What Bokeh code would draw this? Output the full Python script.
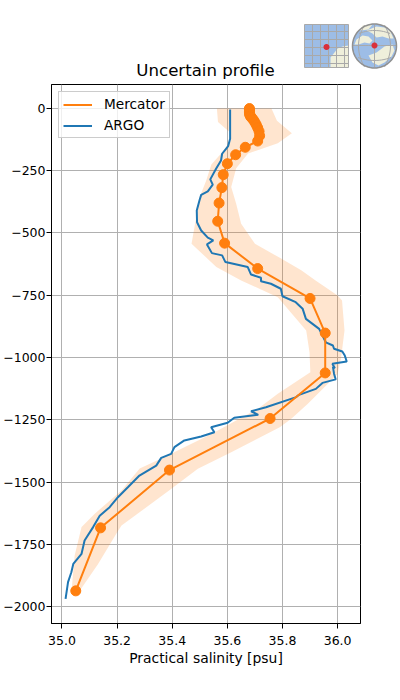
from bokeh.plotting import figure
from bokeh.embed import file_html
from bokeh.resources import INLINE
from bokeh.layouts import column
from bokeh.models import Range1d, FixedTicker, Legend, LegendItem, NumeralTickFormatter
from bokeh.core.properties import value
import numpy as np

# Mercator levels
merc_depth = [0.5, 5, 11, 18, 25, 29, 34, 40, 47, 56, 66, 78, 92, 110, 131, 156, 186, 222, 266, 318, 380, 453, 541, 643, 763, 902, 1062, 1245, 1452, 1684, 1937]
merc_sal = [35.68, 35.68, 35.68, 35.68, 35.681, 35.683, 35.685, 35.69, 35.695, 35.70, 35.705, 35.71, 35.715, 35.717, 35.71, 35.665, 35.63, 35.60, 35.585, 35.58, 35.57, 35.565, 35.59, 35.71, 35.90, 35.955, 35.955, 35.755, 35.39, 35.14, 35.05]

# uncertainty band edges
band_left_d = [0, 55, 95, 130, 180, 225, 290, 355, 437, 543, 637, 691, 758, 892, 979, 1059, 1146, 1206, 1307, 1400, 1446, 1534, 1627, 1681, 1795, 1948]
band_left_s = [35.562, 35.566, 35.608, 35.612, 35.578, 35.542, 35.523, 35.50, 35.487, 35.47, 35.56, 35.65, 35.783, 35.886, 35.898, 35.901, 35.783, 35.711, 35.542, 35.372, 35.282, 35.216, 35.119, 35.071, 35.046, 35.034]
band_right_d = [0, 50, 100, 140, 181, 240, 316, 383, 463, 543, 603, 650, 691, 751, 771, 892, 998, 1066, 1186, 1246, 1280, 1380, 1447, 1527, 1675, 1708, 1829, 1936, 1948]
band_right_s = [35.76, 35.78, 35.834, 35.783, 35.675, 35.632, 35.614, 35.632, 35.65, 35.70, 35.795, 35.868, 35.92, 36.0, 36.016, 36.025, 36.013, 36.0, 35.892, 35.832, 35.79, 35.614, 35.493, 35.397, 35.216, 35.197, 35.131, 35.065, 35.034]

# ARGO profile
argo_depth = [4, 122, 151, 182, 209, 242, 285, 306, 333, 347, 369, 410, 457, 490, 519, 530, 546, 581, 590, 617, 637, 667, 680, 694, 704, 724, 754, 778, 804, 845, 885, 939, 952, 965, 976, 992, 1016, 1025, 1043, 1038, 1065, 1088, 1102, 1126, 1150, 1159, 1200, 1216, 1230, 1242, 1262, 1280, 1300, 1317, 1333, 1360, 1387, 1403, 1434, 1474, 1521, 1561, 1601, 1635, 1681, 1735, 1788, 1829, 1862, 1902, 1969]
argo_sal = [35.610, 35.610, 35.603, 35.581, 35.577, 35.559, 35.538, 35.547, 35.529, 35.505, 35.499, 35.489, 35.490, 35.505, 35.529, 35.549, 35.526, 35.544, 35.581, 35.593, 35.674, 35.686, 35.722, 35.722, 35.758, 35.794, 35.800, 35.848, 35.873, 35.885, 35.933, 35.957, 35.983, 35.987, 36.017, 36.026, 36.033, 35.981, 35.990, 35.983, 35.987, 35.993, 35.945, 35.921, 35.860, 35.850, 35.740, 35.686, 35.712, 35.625, 35.601, 35.541, 35.553, 35.505, 35.444, 35.408, 35.396, 35.360, 35.342, 35.281, 35.239, 35.203, 35.173, 35.137, 35.113, 35.082, 35.071, 35.041, 35.034, 35.022, 35.013]

x_ticks = [35.0, 35.2, 35.4, 35.6, 35.8, 36.0]
y_ticks = [0, -250, -500, -750, -1000, -1250, -1500, -1750, -2000]
title_text = "Uncertain profile"
x_label = "Practical salinity [psu]"
series_names = ["Mercator", "ARGO"]

ORANGE = "#ff7f0e"
BLUE = "#1f77b4"
FONT = "DejaVu Sans"

# Header strip: title and the two locator maps, in pixel coordinates
W, H_HEAD, H_MAIN = 399, 84, 606
h = figure(width=W, height=H_HEAD, output_backend="svg", toolbar_location=None,
           x_range=Range1d(0, W), y_range=Range1d(H_HEAD, 0),
           x_axis_type=None, y_axis_type=None,
           min_border=0, min_border_left=0, min_border_right=0, min_border_top=0, min_border_bottom=0)
h.grid.visible = False
h.outline_line_color = None
h.frame_align = False

WATER = "#9dbde6"
LAND = "#efefdb"
GRAT = "#a9a9a9"
RED = "#d9303a"

def circle(cx, cy, r, n=64):
    t = np.linspace(0, 2 * np.pi, n, endpoint=False)
    return list(cx + r * np.cos(t)), list(cy + r * np.sin(t))

# regional map
h.patch([304, 348, 348, 304], [24, 24, 67, 67], fill_color=WATER, line_color=None)
h.patch([330, 330, 334, 337, 342, 348, 348], [67, 57, 52, 48, 46, 45, 67], fill_color=LAND, line_color=None)
for gx in [312, 320, 328, 336, 344]:
    h.line([gx, gx], [24, 67], line_color=GRAT, line_width=1)
for gy in [31, 39, 47, 55, 63]:
    h.line([304, 348], [gy, gy], line_color=GRAT, line_width=1)
h.patch([304, 348, 348, 304], [24, 24, 67, 67], fill_alpha=0, line_color=GRAT, line_width=1)
cx_, cy_ = circle(326, 46.5, 3)
h.patch(cx_, cy_, fill_color=RED, line_color=None)

# globe
cx_, cy_ = circle(374, 45.5, 22)
h.patch(cx_, cy_, fill_color=WATER, line_color=None)
h.patch([356, 362, 368, 372, 369, 364, 358, 354], [39, 35, 36, 40, 43, 42, 44, 44], fill_color=LAND, line_color=None)
h.patch([366, 376, 384, 390, 393, 388, 382, 376, 372], [30, 26, 27, 31, 38, 38, 36, 37, 33], fill_color=LAND, line_color=None)
h.patch([376, 384, 392, 394, 391, 384, 378, 372, 368], [52, 46, 44, 50, 56, 62, 65, 62, 55], fill_color=LAND, line_color=None)
h.patch([362, 372, 368, 360], [25, 24, 29, 30], fill_color=LAND, line_color=None)
for gy, bow in [(33, -3), (45, 0), (57, 3)]:
    half = (484 - (gy - 45.5 + bow) ** 2) ** 0.5
    gxs = np.linspace(374 - half, 374 + half, 15)
    gys = gy + bow * (1 - ((gxs - 374) / half) ** 2)
    h.line(list(gxs), list(gys), line_color=GRAT, line_width=1)
for gx, bow in [(364, -6), (374, 0), (384, 6)]:
    gys = np.linspace(24.5, 66.5, 15)
    gxs = gx + bow * (1 - ((gys - 45.5) / 21) ** 2)
    h.line(list(gxs), list(gys), line_color=GRAT, line_width=1)
cx_, cy_ = circle(374, 45.5, 22)
h.patch(cx_, cy_, fill_alpha=0, line_color="#909090", line_width=1.5)
cx_, cy_ = circle(374, 45, 3)
h.patch(cx_, cy_, fill_color=RED, line_color=None)

h.text([205], [70], text=[title_text], text_align="center", text_baseline="middle",
       text_font=value(FONT), text_font_size="16.6px", text_color="black")

# Main profile panel
p = figure(width=W, height=H_MAIN, output_backend="svg", toolbar_location=None,
           x_range=Range1d(34.962, 36.083), y_range=Range1d(-2068, 96),
           min_border_left=50, min_border_right=39, min_border_top=0, min_border_bottom=67,
           background_fill_color="white", border_fill_color="white")
p.frame_align = False

for ax, ticks in ((p.xaxis, x_ticks), (p.yaxis, y_ticks)):
    ax.ticker = FixedTicker(ticks=ticks)
    ax.major_label_text_font = FONT
    ax.major_label_text_font_size = "12.5px"
    ax.major_label_text_color = "black"
    ax.major_tick_in = 0
    ax.major_tick_out = 5
    ax.minor_tick_line_color = None
    ax.axis_line_color = "black"
    ax.major_tick_line_color = "black"
p.yaxis.major_label_standoff = 1
p.xaxis.major_label_standoff = 7
p.xaxis.formatter = NumeralTickFormatter(format="0.0")
p.xaxis.axis_label = x_label
p.xaxis.axis_label_text_font = FONT
p.xaxis.axis_label_text_font_size = "13.9px"
p.xaxis.axis_label_text_font_style = "normal"
p.xaxis.axis_label_text_color = "black"
p.xaxis.axis_label_standoff = 2
p.yaxis.major_label_orientation = "horizontal"
p.outline_line_color = "black"
p.outline_line_alpha = 1

p.xgrid.ticker = FixedTicker(ticks=x_ticks)
p.ygrid.ticker = FixedTicker(ticks=y_ticks)
p.grid.grid_line_color = "#b0b0b0"
p.grid.grid_line_width = 1
p.grid.level = "underlay"

# band
p.patch(band_left_s + band_right_s[::-1], [-d for d in band_left_d] + [-d for d in band_right_d[::-1]],
        fill_color=ORANGE, fill_alpha=0.2, line_color=None)
# profiles
r_argo = p.line(argo_sal, [-d for d in argo_depth], line_color=BLUE, line_width=2)
r_merc = p.line(merc_sal, [-d for d in merc_depth], line_color=ORANGE, line_width=2)
p.scatter(merc_sal, [-d for d in merc_depth], size=10, fill_color=ORANGE, line_color=ORANGE)

legend = Legend(items=[LegendItem(label=series_names[0], renderers=[r_merc]),
                       LegendItem(label=series_names[1], renderers=[r_argo])],
                location=(7, 485), margin=0, padding=4, spacing=5,
                label_text_font=FONT, label_text_font_size="13.7px", label_text_color="black",
                border_line_color="#cccccc", border_line_alpha=1, background_fill_alpha=0.8,
                glyph_width=29, glyph_height=15, label_height=15, label_standoff=12)
p.add_layout(legend)

layout = column(h, p, spacing=0)
open("out.html", "w").write(file_html(layout, INLINE))
